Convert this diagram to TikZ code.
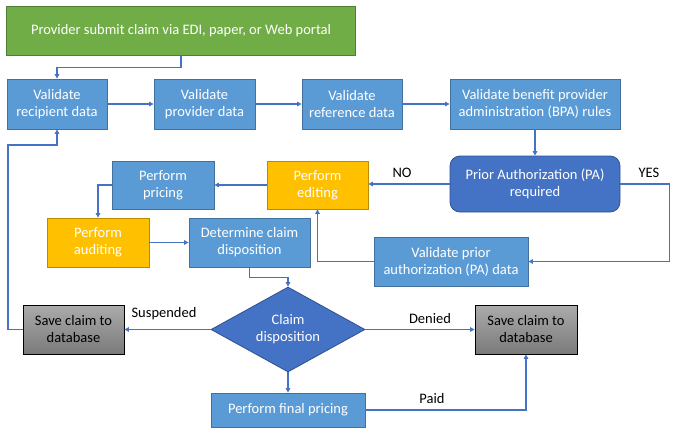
\documentclass[tikz,border=0pt]{standalone}
\usepackage{fontspec}
\setmainfont{Carlito}
\usetikzlibrary{arrows.meta,shapes.geometric}

\definecolor{boxblue}{HTML}{5B9BD5}
\definecolor{boxblueline}{HTML}{41719C}
\definecolor{darkblue}{HTML}{4472C4}
\definecolor{darkblueline}{HTML}{2F528F}
\definecolor{boxgreen}{HTML}{70AD47}
\definecolor{boxgreenline}{HTML}{507E32}
\definecolor{boxyellow}{HTML}{FFC000}
\definecolor{boxyellowline}{HTML}{BC8C00}

\tikzset{
  every node/.style = {font=\fontsize{14.5}{17}\selectfont, align=center, inner sep=0pt},
  task/.style       = {rectangle, draw=boxblueline, fill=boxblue, text=white, line width=0.8pt},
  green task/.style = {task, draw=boxgreenline, fill=boxgreen},
  check/.style      = {task, draw=boxyellowline, fill=boxyellow},
  save/.style       = {rectangle, draw=black, line width=0.8pt, top color=black!33,
                       bottom color=black!52, text=black},
  flow/.style       = {draw=darkblue, line width=1.4pt, -{Triangle[length=4.5pt,width=4.5pt]}},
  tag/.style        = {text=black}
}

\begin{document}
\begin{tikzpicture}[x=1pt, y=-1pt]
  \useasboundingbox (0,0) rectangle (682,431);

  % top row
  \node[green task, minimum width=349pt, minimum height=49pt] (submit) at (181,30.5)
    {Provider submit claim via EDI, paper, or Web portal};
  \node[task, minimum width=100pt, minimum height=50pt] (recip) at (57,104)
    {Validate\\recipient data};
  \node[task, minimum width=101pt, minimum height=50pt] (prov)  at (204.5,104)
    {Validate\\provider data};
  \node[task, minimum width=100pt, minimum height=50pt] (ref)   at (352,104)
    {Validate\\reference data};
  \node[task, minimum width=170pt, minimum height=50pt] (bpa)   at (535,104)
    {Validate benefit provider\\administration (BPA) rules};

  % middle rows
  \node[task, draw=darkblueline, fill=darkblue, rounded corners=10pt,
        minimum width=170pt, minimum height=56pt] (pa) at (535,184)
    {Prior Authorization (PA)\\required};
  \node[check, minimum width=101pt, minimum height=48pt] (edit)  at (317.5,185)
    {Perform\\editing};
  \node[task,  minimum width=102pt, minimum height=48pt] (price) at (163,185)
    {Perform\\pricing};
  \node[check, minimum width=102pt, minimum height=49pt] (audit) at (98,242.5)
    {Perform\\auditing};
  \node[task,  minimum width=121pt, minimum height=49pt] (determ) at (249.5,242.5)
    {Determine claim\\disposition};
  \node[task,  minimum width=154pt, minimum height=49pt] (valpa) at (451,261.5)
    {Validate prior\\authorization (PA) data};

  % bottom rows
  \node[diamond, fill=darkblue, draw=darkblueline, line width=0.8pt, text=white,
        aspect=1.8, minimum width=154pt, minimum height=85pt] (disp) at (288,329.5)
    {Claim\\disposition};
  \node[save, minimum width=101pt, minimum height=49pt] (saveL) at (73.5,329.5)
    {Save claim to\\database};
  \node[save, minimum width=102pt, minimum height=49pt] (saveR) at (526,329.5)
    {Save claim to\\database};
  \node[task, minimum width=154pt, minimum height=34pt] (final) at (288,410)
    {Perform final pricing};

  \coordinate (loop) at (8,145);

  % connectors
  \draw[flow] (submit.south) -- ++(0,12) -| (recip.north);
  \draw[flow] (recip) -- (prov);
  \draw[flow] (prov) -- (ref);
  \draw[flow] (ref) -- (bpa);
  \draw[flow] (bpa) -- (pa);
  \draw[flow] (pa.west) -- (edit.east |- pa.west);
  \draw[flow] (edit) -- (price);
  \draw[flow] (price.west) -| (audit.north);
  \draw[flow] (audit) -- (determ);
  \draw[flow] (pa.east) -- ++(49,0) |- (valpa.east);
  \draw[flow] (valpa.west) -| (edit.south);
  \draw[flow] (determ.south) -- ++(0,10) -| (disp.north);
  \draw[flow] (disp.west) -- (saveL.east);
  \draw[flow] (disp.east) -- (saveR.west);
  \draw[flow] (disp.south) -- (final.north);
  \draw[flow] (final.east) -| (saveR.south);
  \draw[flow] (saveL.west) -| (loop) -| (recip.south);

  % labels
  \node[tag] (no)    at (402,173) {NO};
  \node[tag] (yes)   at (649,173) {YES};
  \node[tag] (susp)  at (164,314) {Suspended};
  \node[tag] (deny)  at (430,319) {Denied};
  \node[tag] (paid)  at (432,399) {Paid};
\end{tikzpicture}
\end{document}
